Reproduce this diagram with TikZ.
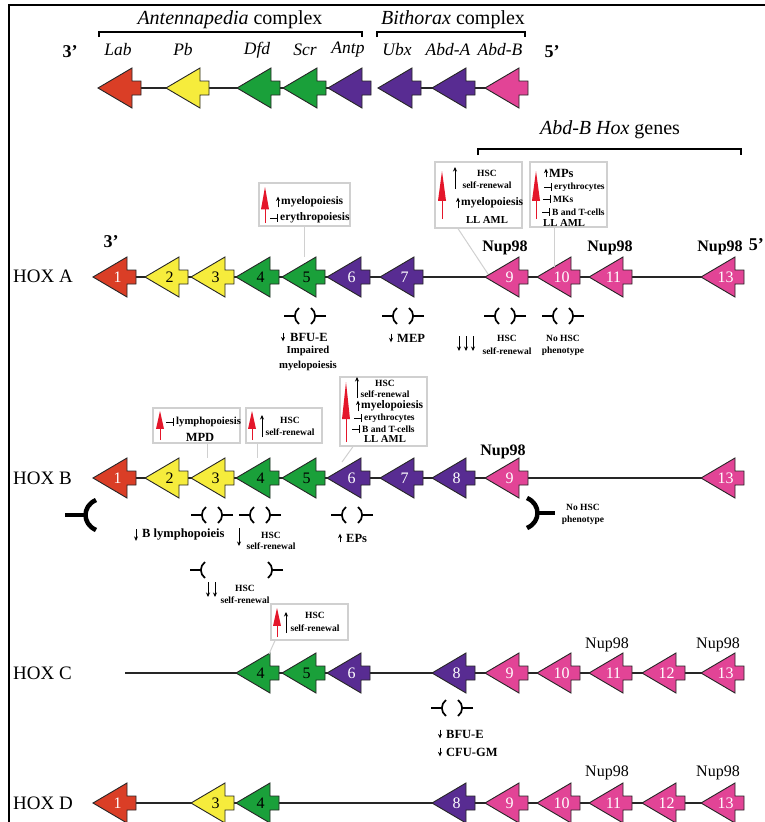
\documentclass[tikz,border=0pt]{standalone}
\usepackage{fontspec}
\setmainfont{Liberation Serif}
\usetikzlibrary{arrows.meta,positioning,calc,backgrounds}
\definecolor{hoxred}{RGB}{218,62,38}
\definecolor{hoxyel}{RGB}{246,236,60}
\definecolor{hoxgrn}{RGB}{26,160,58}
\definecolor{hoxpur}{RGB}{88,44,146}
\definecolor{hoxpnk}{RGB}{226,68,150}
\definecolor{boxgray}{RGB}{208,208,208}
\definecolor{upred}{RGB}{228,22,42}

% gene: name, number, tip x, y, paralog style
\newcommand{\gene}[5]{%
  \filldraw[genebody,#5] (#3,#4) -- ++(34,-20) -- ++(0,13) -- ++(9,0) -- ++(0,14) -- ++(-9,0) -- ++(0,13) -- cycle;
  \node[genenum,#5,fill=none] (#1) at (#3+21.5,#4) {#2};
}
% red overexpression arrow: x, y bottom, y top
\newcommand{\redarrow}[3]{%
  \pgfmathsetmacro\redmid{#3+0.62*(#2-#3)}
  \fill[upred] (#1-4,\redmid) -- (#1,#3) -- (#1+4,\redmid) -- cycle;
  \draw[upred, line width=1pt] (#1,#2) -- (#1,\redmid);
}
% knockout mark -( )-: x, y, half gap
\newcommand{\ko}[3]{%
  \draw[kobar] (#1-#3-15,#2) -- (#1-#3-4,#2);
  \draw[kobar] (#1-#3,#2-8) .. controls (#1-#3-5.5,#2-4) and (#1-#3-5.5,#2+4) .. (#1-#3,#2+8);
  \draw[kobar] (#1+#3+15,#2) -- (#1+#3+4,#2);
  \draw[kobar] (#1+#3,#2-8) .. controls (#1+#3+5.5,#2-4) and (#1+#3+5.5,#2+4) .. (#1+#3,#2+8);
}

\begin{document}
\begin{tikzpicture}[x=1pt, y=-1pt,
    genebody/.style={draw=black!85, line width=0.9pt},
    genenum/.style={minimum width=36pt, minimum height=40pt, inner sep=0pt, font=\fontsize{16}{16}\selectfont, execute at begin node=\hspace*{6pt}},
    par1/.style={fill=hoxred, text=white},
    par2/.style={fill=hoxyel, text=black}, par3/.style={par2},
    par4/.style={fill=hoxgrn, text=black}, par5/.style={par4},
    par6/.style={fill=hoxpur, text=white}, par7/.style={par6}, par8/.style={par6},
    par9/.style={fill=hoxpnk, text=white}, par10/.style={par9}, par11/.style={par9}, par12/.style={par9}, par13/.style={par9},
    chrom/.style={draw=black!85, line width=1.3pt},
    rowlbl/.style={anchor=west, inner sep=0pt, font=\fontsize{19}{19}\selectfont},
    head/.style={inner sep=0pt, font=\fontsize{20}{20}\selectfont},
    dname/.style={inner sep=0pt, font=\fontsize{17.5}{17.5}\selectfont\itshape},
    prime/.style={inner sep=0pt, font=\fontsize{18}{18}\selectfont\bfseries},
    nupA/.style={inner sep=0pt, font=\fontsize{16}{16}\selectfont\bfseries},
    nupC/.style={inner sep=0pt, font=\fontsize{16}{16}\selectfont},
    anns/.style={inner sep=0pt, font=\fontsize{9.5}{10}\selectfont\bfseries},
    annl/.style={inner sep=0pt, font=\fontsize{10.7}{11}\selectfont\bfseries},
    annm/.style={inner sep=0pt, font=\fontsize{11.5}{12}\selectfont\bfseries},
    annb/.style={inner sep=0pt, font=\fontsize{12.5}{13}\selectfont\bfseries},
    infobox/.style={draw=boxgray, line width=1.2pt, fill=white, inner sep=0pt},
    link/.style={draw=boxgray, line width=1pt},
    upa/.style={-{Stealth[length=4.5pt,width=4pt]}, line width=0.9pt},
    inh/.style={-{Bar[width=8pt]}, line width=0.9pt},
    kobar/.style={line width=1.7pt},
    kobig/.style={line width=4.5pt},
    bracket/.style={line width=1.2pt},
    frame/.style={line width=2.5pt}
]
\useasboundingbox (0,0) rectangle (765,822);
\draw[frame] (9,830) -- (9,5) -- (775,5);

% Drosophila HOM-C
\node[head] (antcx) at (230,20) {\textit{Antennapedia} complex};
\node[head] (bithcx) at (453,20) {\textit{Bithorax} complex};
\draw[bracket] (99,37) -- (99,32) -- (362,32) -- (362,37);
\draw[bracket] (377,37) -- (377,32) -- (525,32) -- (525,37);
\node[prime] (fly3) at (70,52) {3’};
\node[prime] (fly5) at (552,52) {5’};
\foreach \nm/\x/\p in {lab/98/1, pb/166/2, dfd/237/4, scr/283/4, antp/328/6, ubx/378/6, abda/432/6, abdb/485/9}
  \gene{\nm}{}{\x}{88}{par\p};
\foreach \nm/\x/\t in {lab/118/Lab, pb/183/Pb, dfd/257/Dfd, scr/305/Scr, antp/348/Antp, ubx/397/Ubx, abda/448/Abd-A, abdb/500/Abd-B}
  \node[dname] (\nm txt) at (\x,50) {\t};
\begin{scope}[on background layer]
\draw[chrom] (lab) -- (antp);
\draw[chrom] (ubx) -- (abdb);
\end{scope}

\node[head] (abdbhd) at (610,130) {\textit{Abd-B Hox} genes};
\draw[bracket] (478,155) -- (478,149) -- (741,149) -- (741,155);

% HOX A
\node[rowlbl] (hoxA) at (13,276) {HOX A};
\node[prime] (a3p) at (111,242) {3’};
\node[prime, anchor=east] (a5p) at (764,245) {5’};
\foreach \n/\x in {1/93,2/145,3/191,4/236,5/282,6/327,7/380,9/485,10/537,11/589,13/701}
  \gene{a\n}{\n}{\x}{277}{par\n};
\begin{scope}[on background layer]
\draw[chrom] (a1) -- (a13);
\end{scope}
\node[nupA] (a9nup) at (505,248) {Nup98};
\node[nupA] (a11nup) at (610,248) {Nup98};
\node[nupA] (a13nup) at (720,248) {Nup98};

\node[infobox, minimum width=91pt, minimum height=43pt] (boxA5) at (304.5,204.5) {};
\redarrow{265}{223}{187}
\node[annm, anchor=west] (a5my) at (281,202) {myelopoiesis};
\node[annm, anchor=west] (a5er) at (280,218) {erythropoiesis};
\draw[upa] ([xshift=-3pt]a5my.south west) -- ([xshift=-3pt]a5my.north west);
\draw[inh] ([xshift=-10pt]a5er.west) -- ([xshift=-2pt]a5er.west);
\draw[link] (boxA5.south) -- (boxA5.south |- a5.north);

\node[infobox, minimum width=87pt, minimum height=66pt] (boxA9) at (478.5,195) {};
\redarrow{442}{219}{171}
\node[anns] (a9hsc) at (487,173) {HSC};
\node[anns] (a9sr) at (487,185) {self-renewal};
\node[annm, anchor=west] (a9my) at (461,203) {myelopoiesis};
\node[annl] (a9aml) at (487,220) {LL AML};
\draw[upa] (455,189) -- (455,167);
\draw[upa] ([xshift=-3pt]a9my.south west) -- ([xshift=-3pt]a9my.north west);
\draw[link] ([xshift=-20.5pt]boxA9.south) -- ($(a9)+(-18.5,-3)$);

\node[infobox, minimum width=77pt, minimum height=65pt] (boxA10) at (568.5,194.5) {};
\redarrow{536}{219}{171}
\node[annb, anchor=west] (a10mp) at (549,173) {MPs};
\node[anns, anchor=west] (a10er) at (554,187) {erythrocytes};
\node[anns, anchor=west] (a10mk) at (553,199) {MKs};
\node[anns, anchor=west] (a10bt) at (552,212) {B and T-cells};
\node[annl, anchor=west] (a10aml) at (543,223) {LL AML};
\draw[upa] ([xshift=-3pt]a10mp.south west) -- ([xshift=-3pt]a10mp.north west);
\foreach \t in {a10er,a10mk,a10bt}
  \draw[inh] ([xshift=-10pt]\t.west) -- ([xshift=-2pt]\t.west);
\draw[link] ([xshift=-14.5pt]boxA10.south) -- ($(a10)+(-4.5,-10)$);

\ko{305}{316}{6}
\ko{403}{316}{6}
\ko{505}{316}{6}
\ko{563}{316}{6}
\node[annb, anchor=west] (a5bfu) at (290,337) {BFU-E};
\draw[upa] ([xshift=-7pt]a5bfu.north west) -- ([xshift=-7pt]a5bfu.south west);
\node[annl] (a5imp) at (308,351) {Impaired};
\node[annl] (a5mye) at (308,366) {myelopoiesis};
\node[annb, anchor=west] (a7mep) at (397,338) {MEP};
\draw[upa] ([xshift=-6pt]a7mep.north west) -- ([xshift=-6pt]a7mep.south west);
\foreach \dx in {459,466,473}
  \draw[upa] (\dx,336) -- (\dx,351);
\node[anns] (a9hsc2) at (507,338) {HSC};
\node[anns] (a9sr2) at (507,351) {self-renewal};
\node[anns] (a10no) at (563,338) {No HSC};
\node[anns] (a10ph) at (563,351) {phenotype};

% HOX B
\node[rowlbl] (hoxB) at (13,478) {HOX B};
\foreach \n/\x in {1/93,2/145,3/191,4/236,5/282,6/327,7/380,8/432,9/485,13/701}
  \gene{b\n}{\n}{\x}{478}{par\n};
\begin{scope}[on background layer]
\draw[chrom] (b1) -- (b13);
\end{scope}
\node[nupA] (b9nup) at (503,452) {Nup98};

\node[infobox, minimum width=87pt, minimum height=35pt] (boxB3) at (196.5,425.5) {};
\redarrow{160}{440}{411}
\node[annl, anchor=west] (b3ly) at (176,422) {lymphopoiesis};
\node[annb] (b3mpd) at (200,437) {MPD};
\draw[inh] ([xshift=-10pt]b3ly.west) -- ([xshift=-2pt]b3ly.west);
\draw[link] ([xshift=10.5pt]boxB3.south) -- ([xshift=-5.5pt]b3.north);

\node[infobox, minimum width=76pt, minimum height=35pt] (boxB4) at (284,425.5) {};
\redarrow{252}{440}{411}
\node[anns] (b4hsc) at (290,420) {HSC};
\node[anns] (b4sr) at (290,432) {self-renewal};
\draw[upa] (262,437) -- (262,415);
\draw[link] (boxB4.south -| b4.north) -- (b4.north);

\node[infobox, minimum width=87pt, minimum height=69pt] (boxB6) at (383.5,411.5) {};
\redarrow{346}{442}{382}
\node[anns] (b6hsc) at (385,383) {HSC};
\node[anns] (b6sr) at (385,394) {self-renewal};
\node[annm, anchor=west] (b6my) at (361,406) {myelopoiesis};
\node[anns, anchor=west] (b6er) at (364,418) {erythrocytes};
\node[anns, anchor=west] (b6bt) at (362,429) {B and T-cells};
\node[annl] (b6aml) at (385,439) {LL AML};
\draw[upa] (357,398) -- (357,377);
\draw[upa] ([xshift=-3pt]b6my.south west) -- ([xshift=-3pt]b6my.north west);
\foreach \t in {b6er,b6bt}
  \draw[inh] ([xshift=-10pt]\t.west) -- ([xshift=-2pt]\t.west);
\draw[link] ([xshift=-30.5pt]boxB6.south) -- ($(b6)+(-6.5,-16)$);

\draw[kobig] (65,515) -- (85,515);
\draw[kobig] (96,500) .. controls (82,506) and (82,524) .. (96,530);
\ko{212}{515}{6}
\ko{260}{515}{6}
\ko{352}{515}{6}
\node[annb, anchor=west] (b2bly) at (142,535) {B lymphopoieis};
\draw[upa] ([xshift=-6pt]b2bly.north west) -- ([xshift=-6pt]b2bly.south west);
\node[anns] (b4hsc2) at (271,535) {HSC};
\node[anns] (b4sr2) at (271,546) {self-renewal};
\draw[upa] (239,528) -- (239,546);
\node[annb, anchor=west] (b6ep) at (346,538) {EPs};
\draw[upa] ([xshift=-6pt]b6ep.south west) -- ([xshift=-6pt]b6ep.north west);
\ko{236.5}{570}{31.5}
\foreach \dx in {208,215}
  \draw[upa] (\dx,582) -- (\dx,597);
\node[anns] (b34hsc) at (245,588) {HSC};
\node[anns] (b34sr) at (245,600) {self-renewal};
\draw[kobig] (527,498) .. controls (541,504) and (541,522) .. (527,528);
\draw[kobig] (538,513) -- (555,513);
\node[anns] (b9no) at (583,507) {No HSC};
\node[anns] (b9ph) at (583,520) {phenotype};

% HOX C
\node[rowlbl] (hoxC) at (13,673) {HOX C};
\coordinate (c0) at (125,673);
\foreach \n/\x in {4/236,5/282,6/327,8/432,9/485,10/537,11/589,12/642,13/701}
  \gene{c\n}{\n}{\x}{673}{par\n};
\begin{scope}[on background layer]
\draw[chrom] (c0) -- (c13);
\end{scope}
\node[nupC] (c11nup) at (607,645) {Nup98};
\node[nupC] (c13nup) at (718,645) {Nup98};

\node[infobox, minimum width=77pt, minimum height=36pt] (boxC4) at (309.5,622) {};
\redarrow{277}{637}{608}
\node[anns] (c4hsc) at (315,615) {HSC};
\node[anns] (c4sr) at (315,628) {self-renewal};
\draw[upa] (286,633) -- (286,612);
\draw[link] ([xshift=-34.5pt]boxC4.south) -- ($(c4)+(11.5,-19)$);

\ko{452}{708}{6}
\node[annb, anchor=west] (c8bfu) at (446,734) {BFU-E};
\node[annb, anchor=west] (c8cfu) at (446,752) {CFU-GM};
\draw[upa] ([xshift=-6pt]c8bfu.north west) -- ([xshift=-6pt]c8bfu.south west);
\draw[upa] ([xshift=-6pt]c8cfu.north west) -- ([xshift=-6pt]c8cfu.south west);

% HOX D
\node[rowlbl] (hoxD) at (13,803) {HOX D};
\foreach \n/\x in {1/93,3/191,4/236,8/432,9/485,10/537,11/589,12/642,13/701}
  \gene{d\n}{\n}{\x}{803}{par\n};
\begin{scope}[on background layer]
\draw[chrom] (d1) -- (d13);
\end{scope}
\node[nupC] (d11nup) at (607,773) {Nup98};
\node[nupC] (d13nup) at (718,773) {Nup98};
\end{tikzpicture}
\end{document}
